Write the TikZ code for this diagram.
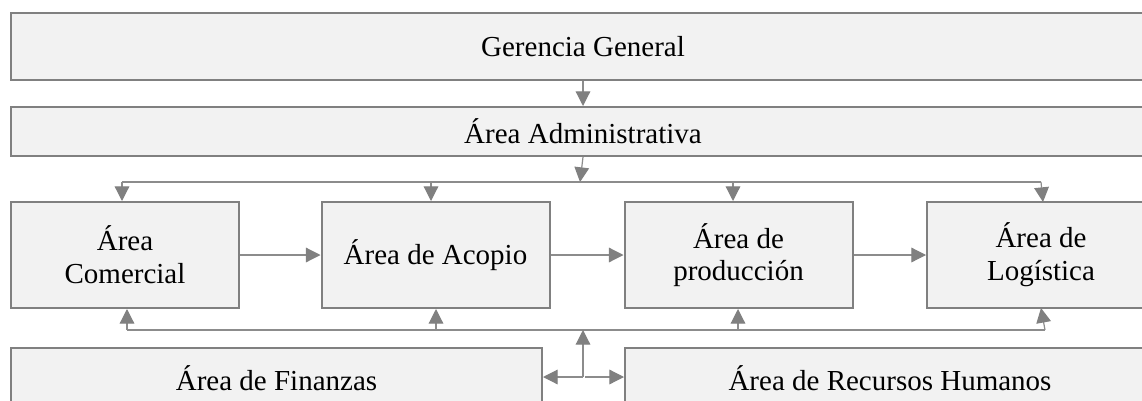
\documentclass[tikz,border=0pt]{standalone}
\usepackage{fontspec}
\setmainfont{Liberation Serif}
\usetikzlibrary{arrows.meta}
\definecolor{boxfill}{HTML}{F2F2F2}
\definecolor{boxline}{HTML}{808080}
\definecolor{conline}{HTML}{8C8C8C}
\begin{document}
\begin{tikzpicture}[x=0.75pt,y=-0.75pt,
  box/.style={draw=boxline, fill=boxfill, line width=1.5pt, inner sep=0pt,
    align=center, font=\fontsize{21.75}{24.5}\selectfont},
  wide/.style={box, minimum width=858pt},
  mid/.style={box, minimum width=171pt, minimum height=79.5pt},
  conn/.style={draw=conline, line width=0.9pt},
  arr/.style={conn, -{Triangle[length=11pt,width=11pt,fill=boxline,color=boxline]}}
]
\useasboundingbox (0,0) rectangle (1142,400);
\clip (0,0) rectangle (1142,400);
\fill[white] (0,0) rectangle (1142,400);

% boxes
\node[wide, minimum height=50.25pt] (ger) at (583,46.5) {Gerencia General};
\node[wide, minimum height=36.75pt] (adm) at (583,131.5) {Área Administrativa};
\node[mid] (com) at (125,255) {Área\\Comercial};
\node[mid] (aco) at (435.5,255) {Área de Acopio};
\node[mid] (pro) at (738.5,255) {Área de\\producción};
\node[mid] (log) at (1041,255) {Área de\\Logística};
\node[box, minimum width=398.25pt, minimum height=45pt] (fin) at (276.5,378) {Área de Finanzas};
\node[box, minimum width=397.5pt, minimum height=45pt] (rrh) at (890,378) {Área de Recursos Humanos};

% top connectors
\draw[arr] (ger.south) -- (adm.north);
\coordinate (tj) at (580,182);
\coordinate (t1) at (122,182);
\coordinate (t2) at (431,182);
\coordinate (t3) at (733,182);
\coordinate (t4) at (1041,182);
\draw[arr] (adm.south) -- (tj);
\draw[conn] (t1) -- (t4);
\draw[arr] (t1) -- (t1 |- com.north);
\draw[arr] (t2) -- (t2 |- aco.north);
\draw[arr] (t3) -- (t3 |- pro.north);
\draw[arr] (t4) -- (1043,202);

% horizontal connectors
\draw[arr] (com.east) -- (aco.west);
\draw[arr] (aco.east) -- (pro.west);
\draw[arr] (pro.east) -- (log.west);

% bottom connectors
\coordinate (b1) at (127,330);
\coordinate (b2) at (436,330);
\coordinate (b3) at (738,330);
\coordinate (b4) at (1045,330);
\draw[conn] (b1) -- (b4);
\draw[arr] (b1) -- (b1 |- com.south);
\draw[arr] (b2) -- (b2 |- aco.south);
\draw[arr] (b3) -- (b3 |- pro.south);
\draw[arr] (b4) -- (1041,308);

\coordinate (hub) at (583,377);
\coordinate (hubr) at (585,377);
\coordinate (hubt) at (583,330);
\draw[arr] (hub) -- (hubt);
\draw[arr] (hub) -- (fin.east |- hub);
\draw[arr] (hubr) -- (rrh.west |- hubr);
\end{tikzpicture}
\end{document}
